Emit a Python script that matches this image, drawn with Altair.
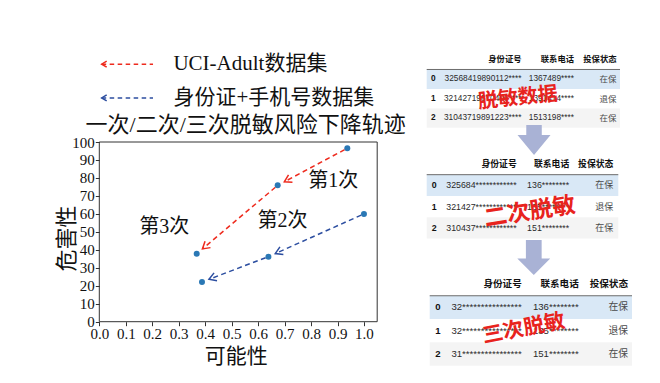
import math
import altair as alt
import pandas as pd

# ---------------- data ----------------
series_names = ["UCI-Adult数据集", "身份证+手机号数据集"]
red_x = [0.937, 0.674, 0.368]
red_y = [96.5, 75.9, 37.8]
blue_x = [1.0, 0.639, 0.388]
blue_y = [60.0, 36.2, 22.1]
stage_labels = ["第1次", "第2次", "第3次"]
stage_x = [0.884, 0.692, 0.245]
stage_y = [78.4, 56.1, 52.9]
x_ticks = [0.0, 0.1, 0.2, 0.3, 0.4, 0.5, 0.6, 0.7, 0.8, 0.9, 1.0]
y_ticks = [0, 10, 20, 30, 40, 50, 60, 70, 80, 90, 100]
title_text = "一次/二次/三次脱敏风险下降轨迹"
x_title = "可能性"
y_title = "危害性"

row_labels = ["0", "1", "2"]
headers = ["身份证号", "联系电话", "投保状态"]
status = ["在保", "退保", "在保"]
ids_1 = ["32568419890112****", "32142719870406****", "31043719891223****"]
phones_1 = ["1367489****", "1391414****", "1513198****"]
ids_2 = ["325684************", "321427************", "310437************"]
phones_2 = ["136********", "135********", "151********"]
ids_3 = ["32****************", "32****************", "31****************"]
phones_3 = ["136********", "135********", "151********"]
stamps = ["脱敏数据", "二次脱敏", "三次脱敏"]

# ---------------- styles ----------------
RED = "#ee2b1e"
BLUE = "#2c4ea0"
DOT = "#2a78b5"
SERIF = "'Liberation Serif', 'Noto Sans CJK SC'"
CJK = "'Noto Sans CJK SC'"
SANS = "'Liberation Sans', 'Noto Sans CJK SC'"

XD, XR = [0, 1.05], [91.3, 369.2]
YD, YR = [0, 100], [313.7, 134.0]
XS = alt.Scale(domain=XD, range=XR, nice=False, zero=False)
YS = alt.Scale(domain=YD, range=YR, nice=False, zero=False)
color_scale = alt.Scale(domain=series_names, range=[RED, BLUE])


def to_px(x, y):
    return (XR[0] + (x - XD[0]) / (XD[1] - XD[0]) * (XR[1] - XR[0]),
            YR[0] + (y - YD[0]) / (YD[1] - YD[0]) * (YR[1] - YR[0]))


def to_data(px, py):
    return (XD[0] + (px - XR[0]) / (XR[1] - XR[0]) * (XD[1] - XD[0]),
            YD[0] + (py - YR[0]) / (YR[1] - YR[0]) * (YD[1] - YD[0]))


# points
pts = pd.DataFrame({
    "x": red_x + blue_x,
    "y": red_y + blue_y,
    "series": [series_names[0]] * 3 + [series_names[1]] * 3,
})

# arrow segments between consecutive points
segs = []
for name, xs_, ys_ in [(series_names[0], red_x, red_y), (series_names[1], blue_x, blue_y)]:
    for i in range(len(xs_) - 1):
        p = to_px(xs_[i], ys_[i])
        q = to_px(xs_[i + 1], ys_[i + 1])
        dx, dy = q[0] - p[0], q[1] - p[1]
        L = math.hypot(dx, dy)
        ux, uy = dx / L, dy / L
        s = to_data(p[0] + 3 * ux, p[1] + 3 * uy)
        t = to_data(q[0] - 7.5 * ux, q[1] - 7.5 * uy)
        segs.append({"series": name, "x": s[0], "y": s[1], "x2": t[0], "y2": t[1],
                     "angle": math.degrees(math.atan2(uy, ux)) % 360})
segs = pd.DataFrame(segs)

CHEVRON = "M -1 -0.6 L 0 0 L -1 0.6"

frame = alt.Chart(pd.DataFrame({"a": [0]})).mark_rect(
    fill="transparent", stroke="#333", strokeWidth=1
).encode(
    x=alt.XDatum(0, type="quantitative", scale=XS, axis=alt.Axis(
        values=x_ticks, format=".1f", title=x_title, offset=-(367 - YR[0]),
        domain=False, grid=False, tickSize=4, tickColor="#333",
        labelFont="Liberation Serif", labelFontSize=15, labelColor="#111",
        labelPadding=1, labelFlush=False, labelOverlap=False,
        titleFont=CJK, titleFontSize=21, titleFontWeight="normal", titleColor="#111",
        titleX=227.8, titleY=348 - YR[0], titleBaseline="middle", titleAlign="center")),
    x2=alt.X2Datum(XD[1]),
    y=alt.YDatum(0, type="quantitative", scale=YS, axis=alt.Axis(
        values=y_ticks, tickCount=11, format="d", title=y_title, offset=-XR[0],
        domain=False, grid=False, tickSize=4, tickColor="#333",
        labelFont="Liberation Serif", labelFontSize=15, labelColor="#111",
        labelPadding=1, labelFlush=False, labelOverlap=False, labelSeparation=0,
        titleFont=CJK, titleFontSize=22, titleFontWeight="normal", titleColor="#111",
        titleAngle=270, titleX=58 - XR[0], titleY=230, titleBaseline="middle",
        titleAlign="center")),
    y2=alt.Y2Datum(YD[1]),
)

rules = alt.Chart(segs).mark_rule(strokeDash=[5, 3.5], strokeWidth=1.5).encode(
    x=alt.X("x:Q", scale=XS), y=alt.Y("y:Q", scale=YS),
    x2="x2:Q", y2="y2:Q",
    color=alt.Color("series:N", scale=color_scale, legend=None),
)
heads = alt.Chart(segs).mark_point(
    shape=CHEVRON, filled=False, strokeWidth=1.5, size=196, opacity=1
).encode(
    x=alt.X("x2:Q", scale=XS), y=alt.Y("y2:Q", scale=YS),
    angle=alt.Angle("angle:Q", scale=None),
    color=alt.Color("series:N", scale=color_scale, legend=None),
)
dots = alt.Chart(pts).mark_circle(size=36, opacity=1, color=DOT).encode(
    x=alt.X("x:Q", scale=XS), y=alt.Y("y:Q", scale=YS),
)
stage_df = pd.DataFrame({"label": stage_labels, "x": stage_x, "y": stage_y})
stage_text = alt.Chart(stage_df).mark_text(
    font=SERIF, fontSize=20, color="#111", align="center", baseline="middle"
).encode(x=alt.X("x:Q", scale=XS), y=alt.Y("y:Q", scale=YS), text="label:N")

# legend (annotation in data space above the plot)
leg = pd.DataFrame({
    "series": series_names,
    "x": [0.009, 0.009], "x2": [0.203, 0.203], "tx": [0.28, 0.28],
    "y": [143.3, 124.5], "angle": [180, 180],
})
leg_rules = alt.Chart(leg).mark_rule(strokeDash=[4.5, 3.5], strokeWidth=1.5).encode(
    x=alt.X("x:Q", scale=XS), x2="x2:Q", y=alt.Y("y:Q", scale=YS),
    color=alt.Color("series:N", scale=color_scale, legend=None),
)
leg_heads = alt.Chart(leg).mark_point(
    shape=CHEVRON, filled=False, strokeWidth=1.5, size=100, opacity=1
).encode(
    x=alt.X("x:Q", scale=XS), y=alt.Y("y:Q", scale=YS),
    angle=alt.Angle("angle:Q", scale=None),
    color=alt.Color("series:N", scale=color_scale, legend=None),
)
leg_text = alt.Chart(leg).mark_text(
    font=SERIF, fontSize=21, color="#111", align="left", baseline="middle"
).encode(x=alt.X("tx:Q", scale=XS), y=alt.Y("y:Q", scale=YS), text="series:N")
title_mark = alt.Chart(pd.DataFrame({"t": [title_text]})).mark_text(
    font=SERIF, fontSize=22, color="#111", align="center", baseline="middle"
).encode(x=alt.XDatum(0.553, scale=XS), y=alt.YDatum(109.4, scale=YS), text="t:N")

main = alt.layer(frame, leg_rules, leg_heads, leg_text, title_mark,
                 rules, heads, dots, stage_text)


# ---------------- tables ----------------
def make_table(ids, phones, stamp, xr, y0, step, fs, stamp_pos, stamp_fs, stamp_angle,
               arrow=None):
    xs = alt.Scale(domain=[0, 1, 2, 3, 4, 5], range=[v - 8 for v in xr], nice=False, zero=False)
    ys = alt.Scale(domain=[-1, 2], range=[y0 - 8 - step, y0 - 8 + 2 * step], nice=False, zero=False)
    cells = []
    for r in range(3):
        cells.append({"row": r, "col": 1, "text": row_labels[r], "kind": "index"})
        cells.append({"row": r, "col": 2, "text": ids[r], "kind": "body"})
        cells.append({"row": r, "col": 3, "text": phones[r], "kind": "body"})
        cells.append({"row": r, "col": 4, "text": status[r], "kind": "status"})
    for c, h in enumerate(headers):
        cells.append({"row": -1, "col": c + 2, "text": h, "kind": "header"})
    df = pd.DataFrame(cells)
    base = alt.Chart(df).encode(
        x=alt.X("col:Q", scale=xs, axis=None),
        y=alt.Y("row:Q", scale=ys, axis=None),
        text="text:N",
    )
    one = pd.DataFrame({"a": [0]})

    def band(r, color):
        return alt.Chart(one).mark_rect(color=color).encode(
            x=alt.XDatum(0, scale=xs, axis=None), x2=alt.X2Datum(5),
            y=alt.YDatum(r - 0.5, scale=ys, axis=None), y2=alt.Y2Datum(r + 0.5))

    hline = alt.Chart(one).mark_rule(color="#6b6b6b", strokeWidth=1).encode(
        x=alt.XDatum(0, scale=xs, axis=None), x2=alt.X2Datum(5),
        y=alt.YDatum(-0.5, scale=ys, axis=None))
    header = base.transform_filter(alt.datum.kind == "header").mark_text(
        font=SANS, fontSize=fs, fontWeight="bold", color="#111", align="right", baseline="middle")
    index = base.transform_filter(alt.datum.kind == "index").mark_text(
        font=SANS, fontSize=fs, fontWeight="bold", color="#111", align="center", baseline="middle")
    body = base.transform_filter(alt.datum.kind == "body").mark_text(
        font=SANS, fontSize=fs, color="#2a2a2a", align="right", baseline="middle")
    stat = base.transform_filter(alt.datum.kind == "status").mark_text(
        font=SANS, fontSize=fs * 1.02, color="#4a4a4a", align="right", baseline="middle")
    stamp_mark = alt.Chart(pd.DataFrame({"t": [stamp]})).mark_text(
        font=CJK, fontSize=stamp_fs, fontWeight="bold", color="#e8231d",
        align="center", baseline="middle", angle=stamp_angle
    ).encode(x=alt.XDatum(stamp_pos[0], scale=xs, axis=None),
             y=alt.YDatum(stamp_pos[1], scale=ys, axis=None), text="t:N")
    layers = [band(0, "#d9e8f6"), band(2, "#f4f4f4"), hline, header, index, body, stat, stamp_mark]
    if arrow is not None:
        (ax, ay), path, size = arrow
        layers.append(alt.Chart(one).mark_point(
            shape=path, filled=True, color="#a9b2d5", size=size, opacity=1, strokeWidth=0
        ).encode(x=alt.XDatum(ax, scale=xs, axis=None), y=alt.YDatum(ay, scale=ys, axis=None)))
    return alt.layer(*layers)


ARROW1 = "M -0.47 -0.91 L 0.47 -0.91 L 0.47 -0.3 L 1 -0.3 L 0 0.91 L -1 -0.3 L -0.47 -0.3 Z"
ARROW2 = "M -0.45 -1 L 0.45 -1 L 0.45 0.05 L 0.94 0.05 L 0 1 L -0.94 0.05 L -0.45 0.05 Z"

t1 = make_table(ids_1, phones_1, stamps[0],
                [426.7, 433.3, 521.5, 574.0, 616.5, 620.0], 79.2, 19.45, 8.3,
                (1.96, 0.97), 20, 354)
t2 = make_table(ids_2, phones_2, stamps[1],
                [426.7, 434.3, 516.7, 569.2, 613.3, 618.3], 185.3, 21.25, 8.8,
                (2.25, 1.26), 23, 351, arrow=((2.33, -2.13), ARROW1, 1089))
t3 = make_table(ids_3, phones_3, stamps[2],
                [429.7, 438.0, 521.8, 578.8, 628.0, 632.0], 307.4, 23.3, 9.6,
                (2.035, 0.93), 21, 349, arrow=((2.21, -2.14), ARROW2, 1225))

chart = alt.layer(main, t1, t2, t3).resolve_scale(
    x="independent", y="independent", color="independent"
).properties(
    width=644, height=367, padding=0, autosize=alt.AutoSizeParams(type="none")
).configure_view(stroke=None).configure_axis(labelOverlap=False, labelSeparation=0)

chart.save("out.html", embed_options={"renderer": "svg", "actions": False})
